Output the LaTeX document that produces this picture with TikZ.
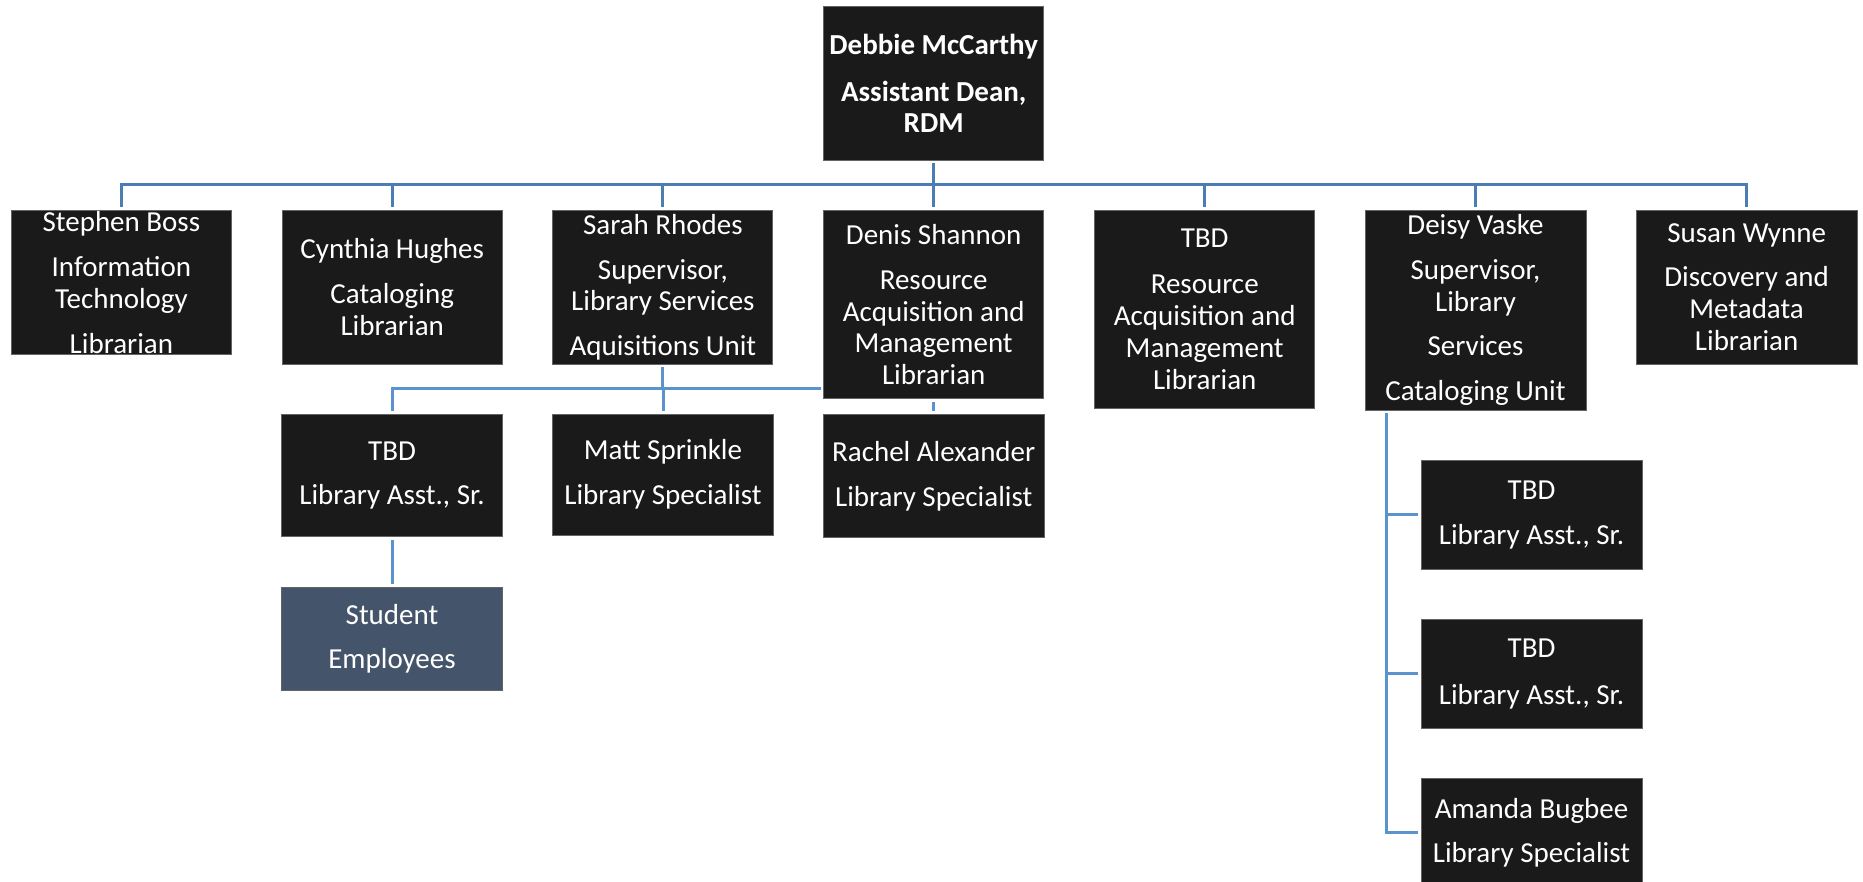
\documentclass[tikz,border=0pt]{standalone}
\usepackage{fontspec}
\setmainfont{Carlito}
\usetikzlibrary{calc}
\pgfdeclarelayer{background}
\pgfsetlayers{background,main}
\definecolor{boxfill}{HTML}{1A1A1A}
\definecolor{boxline}{HTML}{646464}
\definecolor{studfill}{HTML}{44546A}
\definecolor{busblue}{HTML}{4A7DB4}
\definecolor{linkblue}{HTML}{5B93CF}
\begin{document}
\begin{tikzpicture}[x=1pt,y=-1pt,
  box/.style={draw=boxline, line width=1pt, fill=boxfill, text=white, align=center,
    inner sep=0pt, preaction={draw=white, line width=6pt},
    font=\fontsize{29}{31.7}\selectfont},
  topbox/.style={box, font=\fontsize{29}{30.7}\selectfont\bfseries},
  studbox/.style={box, fill=studfill},
  busline/.style={draw=busblue, line width=3pt},
  linkline/.style={draw=linkblue, line width=3pt}]
\useasboundingbox (0,0) rectangle (1863,882);

% top
\node[topbox, minimum width=220pt, minimum height=154pt] (top) at (933.7,83.3)
  {Debbie McCarthy\\[16pt]Assistant Dean,\\RDM};

% level 1
\node[box, minimum width=220pt, minimum height=144pt] (stephen) at (121.4,282.3)
  {Stephen Boss\\[13.3pt]Information\\Technology\\[13.3pt]Librarian};
\node[box, minimum width=220pt, minimum height=154pt] (cynthia) at (392.2,287.3)
  {Cynthia Hughes\\[13.3pt]Cataloging\\Librarian};
\node[box, minimum width=220pt, minimum height=154pt] (sarah) at (662.9,287.3)
  {Sarah Rhodes\\[13.3pt]Supervisor,\\Library Services\\[13.3pt]Aquisitions Unit};
\node[box, minimum width=220pt, minimum height=188.4pt] (denis) at (933.7,304.5)
  {Denis Shannon\\[13.3pt]Resource\\Acquisition and\\Management\\Librarian};
\node[box, minimum width=220pt, minimum height=198pt] (tbdram) at (1204.7,309.3)
  {TBD\\[14.3pt]Resource\\Acquisition and\\Management\\Librarian};
\node[box, minimum width=221pt, minimum height=199.7pt] (deisy) at (1475.5,310.2)
  {Deisy Vaske\\[13.3pt]Supervisor,\\Library\\[12.6pt]Services\\[13.3pt]Cataloging Unit};
\node[box, minimum width=221pt, minimum height=154pt] (susan) at (1746.6,287.3)
  {Susan Wynne\\[12.3pt]Discovery and\\Metadata\\Librarian};

% level 2
\node[box, minimum width=221pt, minimum height=122.4pt] (tbdasst) at (392,475.5)
  {TBD\\[12.3pt]Library Asst., Sr.};
\node[box, minimum width=221pt, minimum height=120.7pt] (matt) at (663,474.7)
  {Matt Sprinkle\\[13.3pt]Library Specialist};
\node[box, minimum width=221pt, minimum height=123pt] (rachel) at (933.7,475.8)
  {Rachel Alexander\\[13.3pt]Library Specialist};
\node[studbox, minimum width=221pt, minimum height=103.4pt] (student) at (392,639)
  {Student\\[12.3pt]Employees};

% Deisy's unit
\node[box, minimum width=221pt, minimum height=109pt] (kone) at (1531.5,514.8)
  {TBD\\[13.3pt]Library Asst., Sr.};
\node[box, minimum width=221pt, minimum height=109pt] (ktwo) at (1531.5,673.8)
  {TBD\\[15pt]Library Asst., Sr.};
\node[box, minimum width=221pt, minimum height=109pt] (kthree) at (1531.5,832.8)
  {Amanda Bugbee\\[11.6pt]Library Specialist};

\begin{pgfonlayer}{background}
  \fill[white] (0,0) rectangle (1863,882);
  \coordinate (bus) at (0,185);
  \foreach \c in {stephen,cynthia,sarah,denis,tbdram,deisy,susan}
    \draw[busline] (top.south) -- (top.south |- bus) -| (\c.north);
  \coordinate (bustwo) at (0,389);
  \foreach \c in {tbdasst,matt,rachel}
    \draw[linkline] (sarah.south) -- (sarah.south |- bustwo) -| (\c.north);
  \draw[linkline] (tbdasst.south) -- (student.north);
  \coordinate (trunk) at ([xshift=21.5pt]deisy.south west);
  \foreach \c in {kone,ktwo,kthree}
    \draw[linkline] (trunk) |- (\c.west);
\end{pgfonlayer}
\end{tikzpicture}
\end{document}
